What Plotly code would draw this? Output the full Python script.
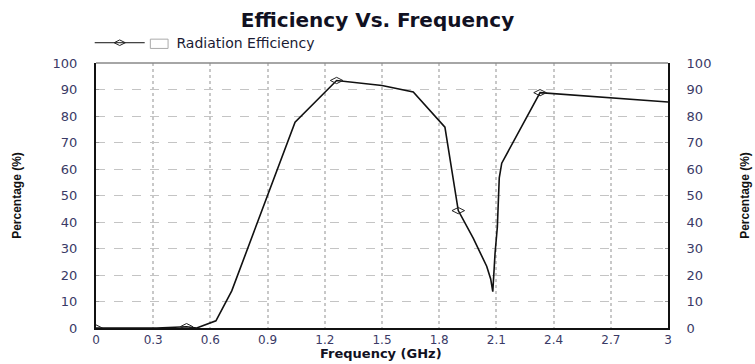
import plotly.graph_objects as go

# Data
freq = [0.0, 0.318, 0.475, 0.528, 0.629, 0.712, 1.044, 1.262, 1.50, 1.664, 1.830,
        1.900, 1.979, 2.049, 2.070, 2.081, 2.093, 2.105, 2.115, 2.128, 2.329, 3.0]
eff = [0.0, 0.0, 0.5, 0.0, 2.7, 14.0, 77.7, 93.4, 91.5, 89.1, 75.8,
       44.3, 33.8, 23.3, 18.5, 13.7, 28.3, 38.1, 56.7, 62.2, 88.8, 85.3]

marker_freq = [0.0, 0.475, 1.262, 1.900, 2.329]
marker_eff = [0.0, 0.5, 93.4, 44.3, 88.8]

x_ticks = [0, 0.3, 0.6, 0.9, 1.2, 1.5, 1.8, 2.1, 2.4, 2.7, 3]
x_tick_text = ["0", "0.3", "0.6", "0.9", "1.2", "1.5", "1.8", "2.1", "2.4", "2.7", "3"]
y_ticks = [0, 10, 20, 30, 40, 50, 60, 70, 80, 90, 100]

TICK_COLOR = "#3a3a66"
FONT = "DejaVu Sans, Verdana, sans-serif"
AXT = "Liberation Sans, Arial, sans-serif"

fig = go.Figure()

fig.add_trace(go.Scatter(x=freq, y=eff, mode="lines",
                         line=dict(color="#111111", width=1.6),
                         showlegend=False, hoverinfo="skip"))
fig.add_trace(go.Scatter(x=marker_freq, y=marker_eff, mode="markers",
                         marker=dict(symbol="diamond-wide-open", size=9,
                                     color="#222222", line=dict(width=1)),
                         showlegend=False))
fig.add_trace(go.Scatter(x=[None], y=[None], mode="lines+markers",
                         name="\u00a0\u00a0\u00a0\u00a0\u00a0\u00a0Radiation Efficiency",
                         line=dict(color="#111111", width=1),
                         marker=dict(symbol="diamond-wide-open", size=8,
                                     color="#222222", line=dict(width=1))))
# invisible trace for the right y axis
fig.add_trace(go.Scatter(x=[None], y=[None], yaxis="y2", showlegend=False))

fig.update_layout(
    width=755, height=364,
    margin=dict(l=96, r=87, t=63, b=36),
    paper_bgcolor="white", plot_bgcolor="white",
    title=dict(text="Efficiency Vs. Frequency", x=0.5, xanchor="center",
               y=0.945, yanchor="middle",
               font=dict(family=FONT, size=20, color="#111122", weight="bold")),
    legend=dict(orientation="h", x=-0.011, xanchor="left", y=1.075, yanchor="middle",
                font=dict(family=FONT, size=14, color="#1a1a33"),
                itemwidth=50, bgcolor="rgba(0,0,0,0)"),
    xaxis=dict(range=[0, 3], tickvals=x_ticks, ticktext=x_tick_text,
               showgrid=True, gridcolor="#c8c8c8", griddash="dot", gridwidth=1.5,
               showline=True, linecolor="#111111", linewidth=1.5,
               zeroline=False, ticks="", ticklabelstandoff=0, automargin=False,
               tickfont=dict(family=FONT, size=12, color=TICK_COLOR)),
    yaxis=dict(range=[0, 100], tickvals=y_ticks,
               showgrid=True, gridcolor="#c4c4c4", griddash="dash", gridwidth=1,
               showline=True, linecolor="#111111", linewidth=2,
               zeroline=False, ticks="inside", ticklen=3, tickcolor="#999999",
               ticklabelstandoff=14, automargin=False,
               tickfont=dict(family=FONT, size=13, color=TICK_COLOR),
               title=dict(text="Percentage (%)", standoff=28,
                          font=dict(family=AXT, size=12, color="#111111", weight="bold"))),
    yaxis2=dict(range=[0, 100], tickvals=y_ticks, overlaying="y", side="right",
                showgrid=False, showline=True, linecolor="#111111", linewidth=2,
                zeroline=False, ticks="inside", ticklen=3, tickcolor="#999999",
                ticklabelstandoff=14, automargin=False,
                tickfont=dict(family=FONT, size=13, color=TICK_COLOR),
                title=dict(text="Percentage (%)", standoff=30,
                           font=dict(family=AXT, size=12, color="#111111", weight="bold"))),
    annotations=[
        dict(text="Frequency (GHz)", xref="paper", yref="paper", x=0.499, y=-0.097,
             xanchor="center", yanchor="middle", showarrow=False,
             font=dict(family=FONT, size=13, color="#111122", weight="bold")),
    ],
    shapes=[
        dict(type="line", xref="paper", yref="paper", x0=0, x1=1, y0=1, y1=1,
             line=dict(color="#888888", width=1.5)),
        dict(type="rect", xref="paper", yref="paper", x0=0.095, x1=0.126,
             y0=1.055, y1=1.09, line=dict(color="#aaaaaa", width=1),
             fillcolor="white"),
    ],
)

fig.write_html("out.html")
